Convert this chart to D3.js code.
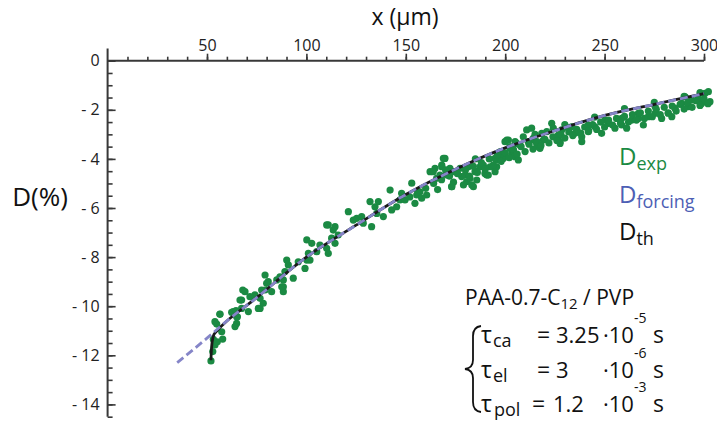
<!DOCTYPE html>
<html>
<head>
<meta charset="utf-8">
<script src="https://cdn.jsdelivr.net/npm/d3@7"></script>
<style>
  html, body { margin: 0; padding: 0; background: #fff; }
  svg { display: block; font-family: "Open Sans", "Noto Sans", sans-serif; }
</style>
</head>
<body>
<svg id="chart" width="717" height="428"></svg>
<script>
// ---- Data ----
const xTicksMajor = [50, 100, 150, 200, 250, 300];
const yTicksMajor = [0, -2, -4, -6, -8, -10, -12, -14];

// Experimental points D_exp : x (µm)
const expX = [
  52.0, 52.9, 54.0, 53.2, 55.2, 57.9, 54.9, 56.5, 63.2, 64.9, 64.9, 64.1, 67.4, 70.8, 67.4, 68.0,
  54.0, 56.5, 62.4, 64.6, 65.3, 69.1, 57.4, 74.1, 76.7, 76.7, 78.3, 79.2, 80.0, 82.5, 88.4, 88.4,
  66.6, 71.6, 75.8, 77.5, 80.8, 79.2, 85.1, 86.7, 88.4, 87.6, 89.2, 90.9, 90.1, 93.4, 95.9, 99.3,
  100.2, 101.8, 100.2, 102.7, 101.0, 105.2, 106.8, 111.0, 113.5, 112.7, 114.4, 110.2, 111.0, 116.0,
  110.2, 114.4, 121.1, 123.6, 125.3, 127.8, 128.6, 132.8, 132.0, 134.5, 136.2, 135.4, 138.7, 142.1,
  142.9, 145.4, 147.1, 147.9, 149.6, 153.0, 154.6, 155.5, 157.1, 160.5, 162.2, 164.7, 168.1, 169.7,
  167.2, 170.6, 173.1, 173.9, 177.3, 179.8, 180.6, 184.0, 181.4, 185.7, 189.8, 190.7, 194.0, 195.7,
  197.4, 194.9, 201.6, 202.4, 203.3, 205.8, 204.1,
  168.9, 168.1, 163.8, 165.5, 170.6, 173.1, 175.6, 178.1, 180.6, 182.3, 183.2, 184.8, 187.3, 189.8,
  191.5, 192.4, 194.9, 195.7, 197.4, 200.8, 202.4, 204.9, 206.6, 204.1, 209.1, 210.8, 213.3, 214.1,
  215.8, 217.5, 218.4, 220.9, 223.4, 224.2, 226.7, 227.6, 211.6, 172.2, 179.0, 185.7, 189.0, 199.0,
  207.4, 219.2,
  226.7, 231.7, 235.1, 238.5, 241.8, 245.2, 248.5, 251.9, 255.2, 258.6, 261.1, 263.6, 267.0, 269.5,
  272.0, 275.4, 278.7, 282.0, 283.8, 285.4, 288.8, 292.1, 293.8, 297.1, 300.5, 302.2, 303.0, 290.5,
  298.8, 275.4, 267.0, 258.6, 250.2, 241.8, 233.4, 228.4,
  227.6, 238.5, 216.6, 199.9, 214.1,
  152, 156, 160, 164, 168, 172, 176, 180, 184, 188, 192, 196, 200, 204, 208, 212, 216, 220, 224,
  228, 232, 236, 240, 244, 248, 252, 256, 260, 264, 268, 272, 276, 280, 284, 288, 292, 296, 300,
  158, 166, 174, 182, 186, 190, 194, 198, 202, 206, 210, 214, 218, 222, 226, 230, 234, 238, 242,
  246, 250, 254, 258, 262, 266, 270, 274, 278, 282, 286, 290, 294, 298, 302,
  205, 215, 230, 245, 260, 275, 290, 298, 185, 170
];
// Experimental points D_exp : D (%)
const expD = [
  -12.23, -11.85, -11.58, -11.35, -11.45, -11.34, -10.73, -10.32, -10.22, -10.43, -10.70, -10.83, -10.09, -10.22, -9.75, -9.34,
  -10.63, -10.33, -10.25, -10.18, -10.43, -9.41, -11.04, -9.54, -9.68, -10.09, -9.88, -9.34, -9.07, -9.41, -9.21, -9.41,
  -9.75, -9.61, -10.09, -9.34, -9.00, -8.73, -8.93, -8.80, -8.93, -9.21, -8.59, -8.32, -8.12, -8.86, -8.19, -8.46,
  -8.12, -8.12, -7.30, -7.44, -7.85, -7.78, -7.51, -6.69, -6.90, -7.23, -7.44, -7.64, -7.85, -7.10,
  -6.69, -6.76, -6.15, -6.49, -6.42, -6.35, -6.62, -6.76, -5.74, -5.95, -5.74, -6.22, -6.35, -5.27,
  -6.08, -5.95, -5.67, -5.40, -5.67, -4.99, -5.81, -5.47, -5.34, -5.47, -4.52, -4.38, -4.25, -3.98,
  -4.66, -4.59, -5.13, -4.52, -4.38, -4.66, -4.93, -5.13, -4.32, -4.52, -4.38, -4.66, -4.32, -4.04,
  -3.84, -4.52, -3.23, -3.50, -3.77, -3.37, -3.71,
  -3.98, -4.32, -4.52, -4.79, -4.66, -5.13, -4.52, -4.72, -4.32, -4.79, -5.06, -4.52, -4.32, -4.59,
  -4.66, -4.32, -3.98, -4.32, -3.71, -3.23, -3.57, -3.91, -4.04, -3.64, -3.10, -2.82, -2.75, -3.23,
  -3.37, -3.57, -2.96, -2.89, -2.55, -2.75, -3.10, -3.30, -3.30, -4.38, -5.06, -4.86, -4.25, -3.98,
  -3.43, -3.23,
  -3.03, -2.75, -2.96, -3.10, -2.89, -2.69, -2.96, -2.55, -2.75, -2.62, -2.75, -2.42, -2.35, -2.62,
  -2.28, -2.14, -2.35, -2.14, -2.28, -1.94, -1.74, -1.87, -1.60, -1.53, -1.33, -1.26, -1.67, -1.47,
  -1.74, -1.87, -2.14, -2.35, -2.42, -2.62, -2.69, -2.82,
  -3.37, -3.30, -3.50, -3.30, -3.16,
  -5.55, -5.35, -5.20, -5.00, -4.85, -4.70, -4.60, -4.45, -4.30, -4.15, -4.00, -3.85, -3.75, -3.60, -3.50, -3.40, -3.30, -3.20, -3.10,
  -3.00, -2.90, -2.80, -2.70, -2.60, -2.50, -2.42, -2.35, -2.27, -2.20, -2.12, -2.05, -1.98, -1.90, -1.85, -1.78, -1.70, -1.63, -1.55,
  -5.60, -5.25, -4.95, -4.70, -4.55, -4.40, -4.25, -4.10, -3.95, -3.80, -3.70, -3.60, -3.45, -3.35, -3.25, -3.15, -3.05, -2.95, -2.85,
  -2.80, -2.70, -2.62, -2.55, -2.50, -2.42, -2.35, -2.28, -2.20, -2.12, -2.05, -1.97, -1.90, -1.82, -1.75,
  -3.30, -3.00, -2.60, -2.30, -1.95, -1.70, -1.45, -1.30, -4.00, -4.45
];

// Forcing model D_forcing
const forcingX = [35, 50, 60, 75, 100, 125, 150, 175, 200, 225, 250, 275, 300];
const forcingD = [-12.3, -11.3, -10.6, -9.65, -8.0, -6.7, -5.45, -4.42, -3.55, -2.85, -2.23, -1.78, -1.34];

// Theoretical D_th
const thX = [52.0, 52.2, 52.7, 53.5, 55, 60, 75, 100, 125, 150, 175, 200, 225, 250, 275, 300];
const thD = [-12.2, -11.8, -11.4, -11.15, -11.0, -10.6, -9.65, -8.0, -6.7, -5.45, -4.42, -3.55, -2.85, -2.23, -1.78, -1.34];

// ---- Drawing ----
const svg = d3.select("#chart");
const x = d3.scaleLinear().domain([0, 300]).range([107.6, 704]);
const y = d3.scaleLinear().domain([0, -14]).range([60.7, 404.4]);

const axisColor = "#383838";
const green = "#1b8a43";
const lineBlue = "#8585c8";
const FONT = "'Open Sans', 'Noto Sans', sans-serif";

// Experimental dots
const expData = expX.map((v, i) => [v, expD[i]]);
svg.append("g").selectAll("circle").data(expData).join("circle")
  .attr("cx", d => x(d[0])).attr("cy", d => y(d[1]))
  .attr("r", 3.6).attr("fill", green);

// Lines
const line = d3.line().x(d => x(d[0])).y(d => y(d[1])).curve(d3.curveMonotoneX);
const thLine = d3.line().x(d => x(d[0])).y(d => y(d[1])).curve(d3.curveCatmullRom);
svg.append("path")
  .attr("d", thLine(thX.map((v, i) => [v, thD[i]])))
  .attr("fill", "none").attr("stroke", "#1a1a1a").attr("stroke-width", 2.8);
svg.append("path")
  .attr("d", line(forcingX.map((v, i) => [v, forcingD[i]])))
  .attr("fill", "none").attr("stroke", lineBlue).attr("stroke-width", 2.8)
  .attr("stroke-dasharray", "8,4");

// X axis (top)
const xMinor = d3.range(10, 301, 10);
const gxMinor = svg.append("g").attr("transform", `translate(0,${y(0)})`)
  .call(d3.axisTop(x).tickValues(xMinor).tickSize(4).tickSizeOuter(0).tickFormat(""));
const gxMajor = svg.append("g").attr("transform", `translate(0,${y(0)})`)
  .call(d3.axisTop(x).tickValues(xTicksMajor).tickSize(7).tickSizeOuter(0).tickPadding(3));
[gxMinor, gxMajor].forEach(g => {
  g.selectAll(".domain").remove();
  g.selectAll("line").attr("stroke", axisColor).attr("stroke-width", 1.6);
  g.selectAll("text").attr("font-size", 16).attr("fill", "#222").attr("font-family", FONT);
});
svg.append("line").attr("x1", x(0)).attr("x2", x(300)).attr("y1", y(0)).attr("y2", y(0))
  .attr("stroke", axisColor).attr("stroke-width", 2);

// Y axis (left, ticks pointing inside)
const yMinor = d3.range(0, -14.51, -0.5);
const gyMinor = svg.append("g").attr("transform", `translate(${x(0)},0)`)
  .call(d3.axisRight(y).tickValues(yMinor).tickSize(5).tickSizeOuter(0).tickFormat(""));
const gyMajorTicks = svg.append("g").attr("transform", `translate(${x(0)},0)`)
  .call(d3.axisRight(y).tickValues(yTicksMajor).tickSize(8).tickSizeOuter(0).tickFormat(""));
const gyLabels = svg.append("g").attr("transform", `translate(${x(0)},0)`)
  .call(d3.axisLeft(y).tickValues(yTicksMajor).tickSize(0).tickSizeOuter(0).tickPadding(8)
    .tickFormat(d => d === 0 ? "0" : "- " + Math.abs(d)));
[gyMinor, gyMajorTicks, gyLabels].forEach(g => {
  g.selectAll(".domain").remove();
  g.selectAll("line").attr("stroke", axisColor).attr("stroke-width", 1.6);
  g.selectAll("text").attr("font-size", 16).attr("fill", "#222").attr("font-family", FONT);
});
svg.append("line").attr("x1", x(0)).attr("x2", x(0)).attr("y1", y(0.5)).attr("y2", y(-14.5))
  .attr("stroke", axisColor).attr("stroke-width", 2);

// Axis titles
svg.append("text").attr("x", 405).attr("y", 25).attr("text-anchor", "middle")
  .attr("font-size", 23).attr("fill", "#111").text("x (µm)");
svg.append("text").attr("x", 40).attr("y", 206).attr("text-anchor", "middle")
  .attr("font-size", 26).attr("fill", "#111").text("D(%)");

// Legend
const legend = [
  { main: "D", sub: "exp", color: green, yb: 165 },
  { main: "D", sub: "forcing", color: "#4d5fb5", yb: 203 },
  { main: "D", sub: "th", color: "#111", yb: 240 }
];
legend.forEach(l => {
  const t = svg.append("text").attr("x", 619).attr("y", l.yb).attr("fill", l.color);
  t.append("tspan").attr("font-size", 24).text(l.main);
  t.append("tspan").attr("font-size", 18).attr("dy", 5).text(l.sub);
});

// Annotation
const ann = svg.append("text").attr("x", 465).attr("y", 305).attr("fill", "#111").attr("font-size", 21);
ann.append("tspan").text("PAA-0.7-C");
ann.append("tspan").attr("font-size", 15).attr("dy", 4).text("12");
ann.append("tspan").attr("dy", -4).text(" / PVP");

const rows = [
  { sub: "ca", subX: 493, eqX: 537, val: "3.25", valX: 556, exp: "-5", yb: 343 },
  { sub: "el", subX: 493, eqX: 537, val: "3", valX: 556, exp: "-6", yb: 378 },
  { sub: "pol", subX: 494, eqX: 532, val: "1.2", valX: 553, exp: "-3", yb: 412 }
];
rows.forEach(r => {
  const g = svg.append("g").attr("fill", "#111");
  g.append("text").attr("x", 481).attr("y", r.yb).attr("font-size", 23).text("τ");
  g.append("text").attr("x", r.subX).attr("y", r.yb + 4).attr("font-size", 18).text(r.sub);
  g.append("text").attr("x", r.eqX).attr("y", r.yb).attr("font-size", 23).text("=");
  g.append("text").attr("x", r.valX).attr("y", r.yb).attr("font-size", 22).text(r.val);
  const ten = g.append("text").attr("x", 603).attr("y", r.yb).attr("font-size", 22).text("·10");
  const tenEnd = 603 + ten.node().getComputedTextLength();
  g.append("text").attr("x", tenEnd).attr("y", r.yb - 20).attr("font-size", 14).text(r.exp);
  g.append("text").attr("x", Math.max(653, tenEnd + 13)).attr("y", r.yb).attr("font-size", 23).text("s");
});

// Curly brace
svg.append("path")
  .attr("d", "M481,326 Q473,327 473,336 L473,360 Q473,368 465,369 Q473,370 473,378 L473,402 Q473,411 481,412")
  .attr("fill", "none").attr("stroke", "#111").attr("stroke-width", 1.8);
</script>
</body>
</html>
